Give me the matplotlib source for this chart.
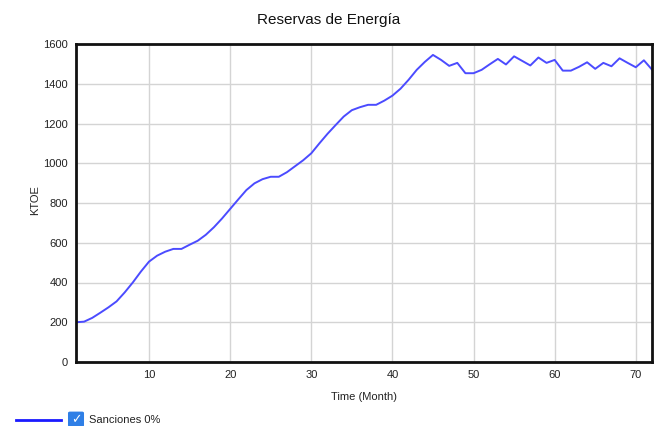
import matplotlib
matplotlib.use("Agg")
import matplotlib.pyplot as plt
from matplotlib.lines import Line2D
from matplotlib.patches import FancyBboxPatch
import numpy as np

plt.rcParams['font.family'] = ['Liberation Sans', 'DejaVu Sans']

title = "Reservas de Energía"
xlabel = "Time (Month)"
ylabel = "KTOE"
series_name = "Sanciones 0%"

months = list(range(1, 73))
reservas = [
    200, 203, 222, 248, 275, 305, 350, 400, 455, 505,
    535, 555, 569, 569, 590, 610, 640, 678, 722, 770,
    818, 865, 899, 920, 932, 932, 955, 985, 1015, 1050,
    1100, 1148, 1192, 1235, 1267, 1282, 1294, 1294, 1315, 1340,
    1375, 1420, 1470, 1510, 1545, 1520, 1490, 1505, 1453, 1453,
    1470, 1498, 1525, 1497, 1538, 1515, 1492, 1532, 1505, 1520,
    1466, 1466, 1485, 1508, 1475, 1505, 1488, 1528, 1505, 1483,
    1518, 1471,
]
xticks = [10, 20, 30, 40, 50, 60, 70]
yticks = [0, 200, 400, 600, 800, 1000, 1200, 1400, 1600]

fig = plt.figure(figsize=(6.58, 4.26), dpi=100)
ax = fig.add_axes([76/658, 1-362/426, (652-76)/658, (362-44)/426])

ax.plot(months, reservas, color='#4b4bff', lw=1.4)
ax.set_xlim(1, 72)
ax.set_ylim(0, 1600)
ax.set_xticks(xticks)
ax.set_yticks(yticks)
ax.grid(True, color='#d4d4d4', lw=1)
ax.set_axisbelow(True)
ax.tick_params(length=0, labelsize=8, pad=6, colors='#222222')
for s in ax.spines.values():
    s.set_linewidth(2)
    s.set_color('#111111')

fig.text(0.5, 1-20/426, title, ha='center', va='center', fontsize=11, color='#111111')
fig.text(35/658, 1-200/426, ylabel, rotation=90, ha='center', va='center', fontsize=8, color='#222222')
fig.text(364/658, 1-397/426, xlabel, ha='center', va='center', fontsize=8, color='#222222')

# legend
fig.add_artist(Line2D([16/658, 61/658], [1-420/426, 1-420/426], color='#1a1aff', lw=2))
box = FancyBboxPatch((70/658, 1-426/426 + 0.002), 12/658, 12/426,
                     boxstyle="round,pad=0.002", transform=fig.transFigure,
                     facecolor='#2f7fe6', edgecolor='#2f7fe6')
fig.add_artist(box)
fig.text(76/658, 1-420/426, "✓", ha='center', va='center', fontsize=9,
         color='white', fontweight='bold', family='DejaVu Sans')
fig.text(89/658, 1-420/426, series_name, ha='left', va='center', fontsize=8, color='#222222')

fig.savefig("out.png", dpi=100)
